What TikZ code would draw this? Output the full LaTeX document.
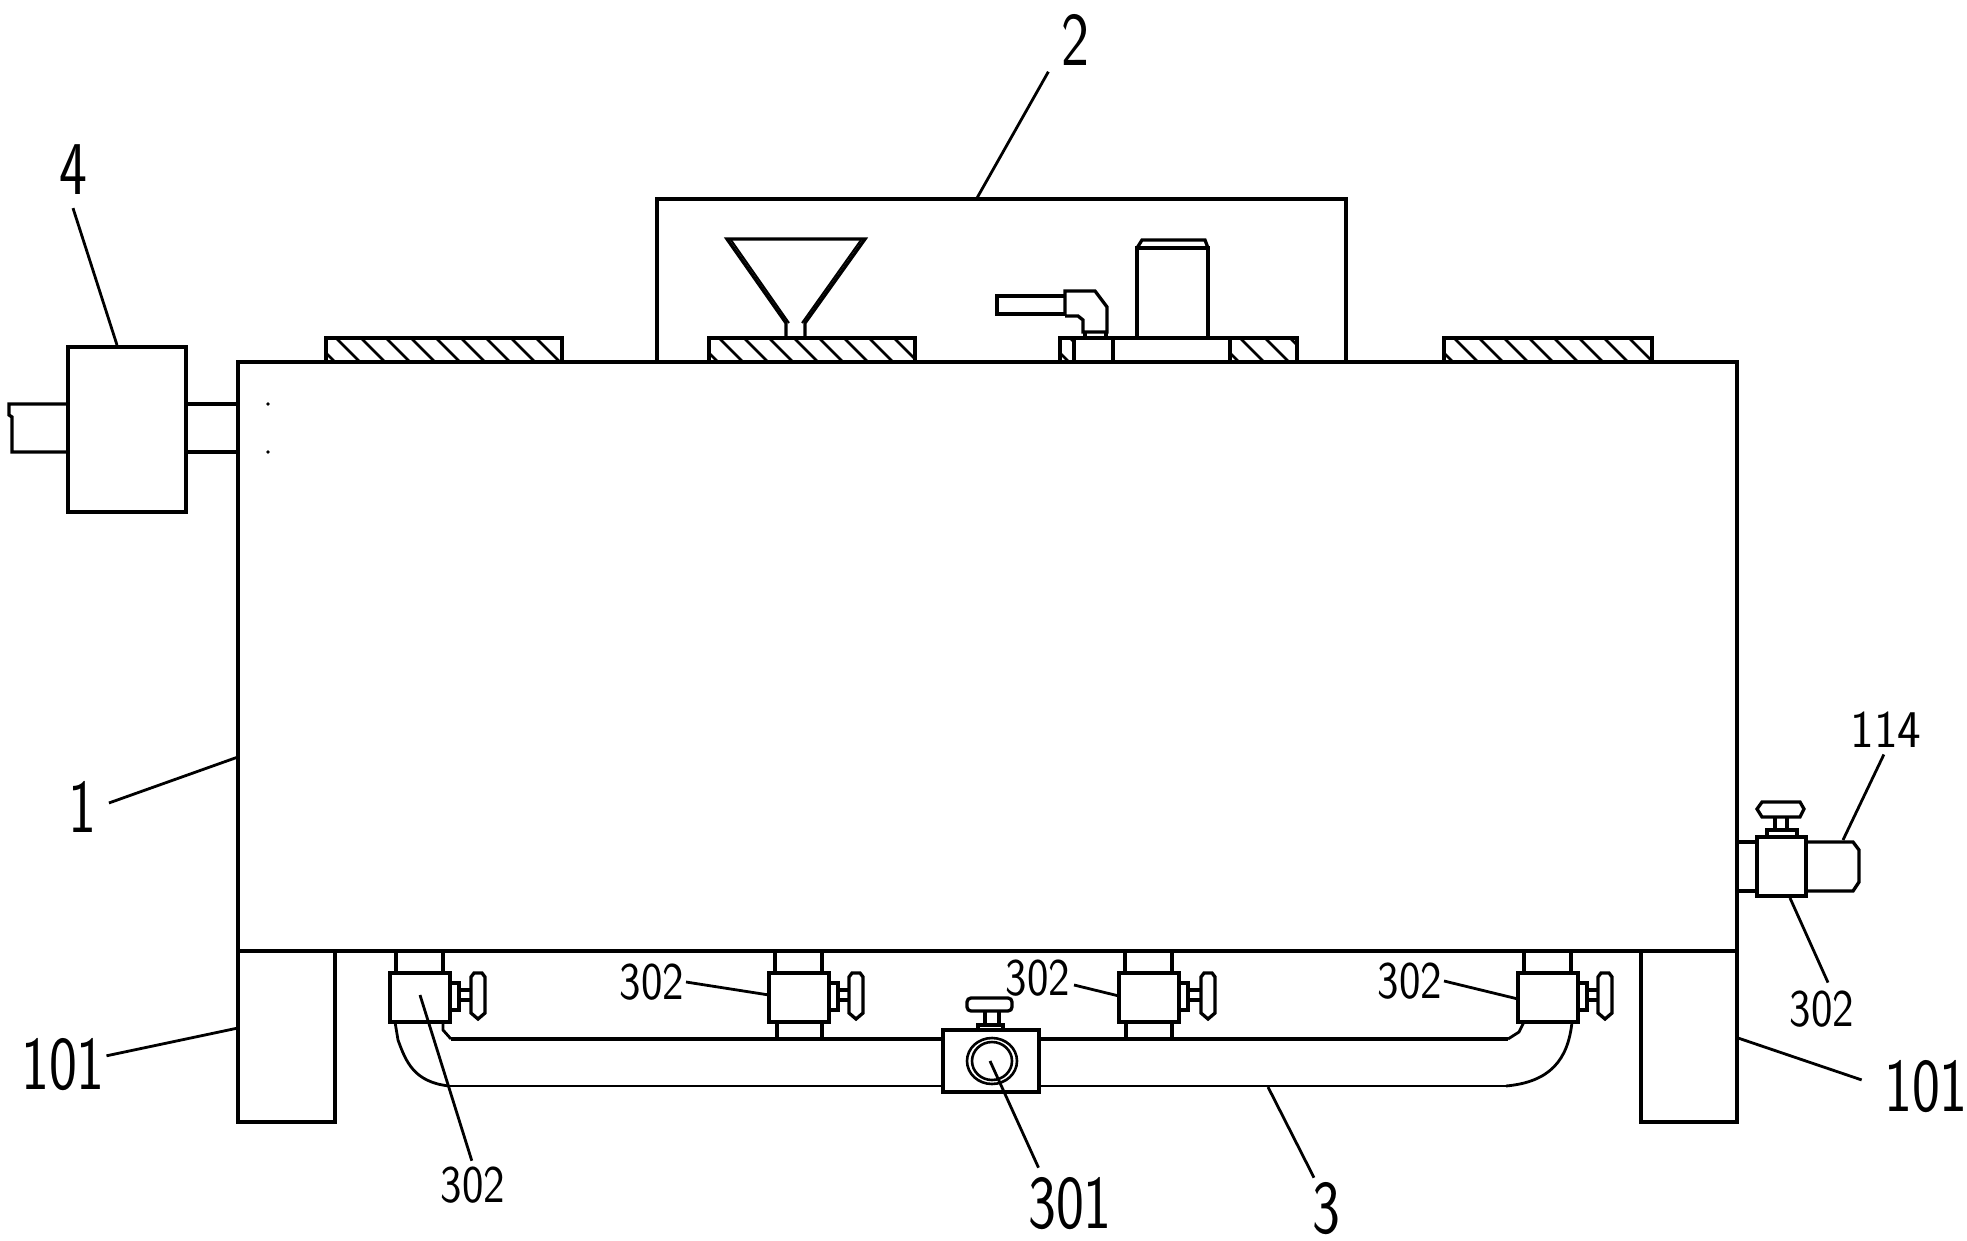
\documentclass[tikz,border=0pt]{standalone}
\usepackage{fontspec}
\usetikzlibrary{positioning}
\tikzset{
  outline/.style={draw=black,line width=3.3pt,line join=miter},
  leader/.style={draw=black,line width=2.8pt},
  smalltag/.style={font=\sffamily\fontsize{53}{53}\selectfont,xscale=0.86,inner sep=2pt},
  bigtag/.style={font=\sffamily\fontsize{76}{76}\selectfont,xscale=0.78,inner sep=2pt},
}
\newcommand{\hatchpad}[4]{%
  \begin{scope}
    \clip (#1,#2) rectangle (#3,#4);
    \foreach \hx in {-40,-15,...,260}
      \draw[line width=2.6pt] ({#1+\hx},#2) -- ++(24,24);
  \end{scope}
  \draw[outline] (#1,#2) rectangle (#3,#4);
}
\begin{document}
\begin{tikzpicture}[x=1pt,y=-1pt]
  \useasboundingbox (0,0) rectangle (1967,1241);
  % tank and legs
  \draw[outline] (238,362) rectangle (1737,951);
  \draw[outline] (238,951) -- (238,1122) -- (335,1122) -- (335,951);
  \draw[outline] (1641,951) -- (1641,1122) -- (1737,1122) -- (1737,951);
  % top cover
  \draw[outline] (657,362) -- (657,199) -- (1346,199) -- (1346,362);
  \hatchpad{326}{338}{562}{362}
  \hatchpad{709}{338}{915}{362}
  \hatchpad{1444}{338}{1652}{362}
  \hatchpad{1060}{338}{1074}{362}
  \hatchpad{1230}{338}{1297}{362}
  \draw[outline] (1074,338) rectangle (1230,362);
  \draw[outline] (1113,338) -- (1113,362);
  % funnel
  \draw[outline] (786,338) -- (786,323) -- (727,239) -- (865,239) -- (805,323) -- (805,338);
  \draw[line width=2pt] (731,240) -- (789,323);
  \draw[line width=2pt] (861,240) -- (802,323);
  % motor and elbow
  \draw[outline] (1137,338) -- (1137,248) -- (1208,248) -- (1208,338);
  \draw[outline] (1137,248) -- (1142,240) -- (1205,240) -- (1208,248);
  \draw[outline] (1065,296) -- (997,296) -- (997,314) -- (1065,314);
  \draw[outline] (1065,314) -- (1065,291) -- (1095,291) -- (1107,307) -- (1107,332) -- (1083,332) -- (1083,320) -- (1078,316) -- (1065,316);
  \draw[outline] (1085,332) -- (1085,338);
  \draw[outline] (1106,332) -- (1106,338);
  % side unit
  \draw[outline] (68,347) rectangle (186,512);
  \draw[outline] (186,404) -- (238,404);
  \draw[outline] (186,452) -- (238,452);
  \draw[outline] (68,404) -- (9,404) -- (9,415) -- (12,417) -- (12,452) -- (68,452);
  \fill (268,404) circle (1.8);
  \fill (268,452) circle (1.8);
  % lower pipe
  \draw[outline] (451,1039) -- (943,1039);
  \draw[outline] (1039,1039) -- (1508,1039);
  \draw[outline,line width=2.8pt] (449,1086) -- (943,1086);
  \draw[outline,line width=2.8pt] (1039,1086) -- (1506,1086);
  \draw[outline,line width=2.8pt] (395,1022) -- (398,1040) .. controls (406,1062) and (414,1082) .. (449,1086);
  \draw[outline,line width=2.8pt] (443,1022) -- (443,1030) -- (451,1039);
  \draw[outline,line width=2.8pt] (1572,1022) .. controls (1568,1060) and (1550,1082) .. (1506,1086);
  \draw[outline,line width=2.8pt] (1524,1022) -- (1519,1032) -- (1508,1039);
  % branch valves
  \foreach \bx/\hx in {390/471,769/849,1119/1201,1518/1598}{
    \draw[outline] (\bx,973) rectangle ({\bx+60},1022);
    \draw[outline] ({\bx+60},983) -- ({\bx+69},983) -- ({\bx+69},1010) -- ({\bx+60},1010);
    \draw[outline] ({\bx+69},990) -- (\hx,990);
    \draw[outline] ({\bx+69},1000) -- (\hx,1000);
    \draw[outline] (\hx,977) -- (\hx,1013) -- ({\hx+7},1019) -- ({\hx+14},1013) -- ({\hx+14},977) -- ({\hx+11},973) -- ({\hx+3},973) -- cycle;
    \draw[outline] ({\bx+6},951) -- ({\bx+6},973);
    \draw[outline] ({\bx+53},951) -- ({\bx+53},973);
  }
  \foreach \px in {777,822,1126,1172}
    \draw[outline] (\px,1022) -- (\px,1039);
  % main valve
  \draw[outline] (943,1030) rectangle (1039,1092);
  \draw[outline,line width=2.6pt] (992,1061) ellipse [x radius=25,y radius=23];
  \draw[outline,line width=2.6pt] (992,1061) ellipse [x radius=20,y radius=19];
  \draw[outline] (978,1030) -- (978,1025) -- (1003,1025) -- (1003,1030);
  \draw[outline] (985,1025) -- (985,1010);
  \draw[outline] (999,1025) -- (999,1010);
  \draw[outline,rounded corners=4pt] (967,998) rectangle (1012,1011);
  % outlet valve
  \draw[outline] (1757,837) rectangle (1806,896);
  \draw[outline] (1737,842) -- (1757,842);
  \draw[outline] (1737,891) -- (1757,891);
  \draw[outline] (1806,842) -- (1853,842) -- (1859,850) -- (1859,882) -- (1853,891) -- (1806,891);
  \draw[outline] (1767,837) -- (1767,830) -- (1797,830) -- (1797,837);
  \draw[outline] (1775,830) -- (1775,817);
  \draw[outline] (1787,830) -- (1787,817);
  \draw[outline] (1762,802) -- (1800,802) -- (1804,809) -- (1800,817) -- (1762,817) -- (1757,809) -- cycle;
  % labels
  \node[bigtag] (lbltwo) at (1075,40) {2};
  \node[bigtag] (lblfour) at (73,170) {4};
  \node[bigtag] (lblone) at (82,807) {1};
  \node[bigtag] (lblfootl) at (63,1065) {101};
  \node[bigtag] (lblfootr) at (1926,1087) {101};
  \node[bigtag] (lblmain) at (1070,1204) {301};
  \node[bigtag] (lblpipe) at (1326,1209) {3};
  \node[smalltag,xscale=1.1] (lblout) at (1886,730) {114};
  \node[smalltag] (lblva) at (473,1185) {302};
  \node[smalltag] (lblvb) at (652,982) {302};
  \node[smalltag] (lblvc) at (1038,978) {302};
  \node[smalltag] (lblvd) at (1410,981) {302};
  \node[smalltag] (lblve) at (1822,1009) {302};
  % leader ends
  \coordinate (tiptwo) at (977,198);
  \coordinate (tipfour) at (117,345);
  \coordinate (tipone) at (238,757);
  \coordinate (tipfootl) at (238,1028);
  \coordinate (tipfootr) at (1738,1038);
  \coordinate (tipmain) at (990,1061);
  \coordinate (tippipe) at (1268,1087);
  \coordinate (tipout) at (1843,840);
  \coordinate (tipva) at (420,995);
  \coordinate (tipvb) at (769,995);
  \coordinate (tipvc) at (1119,996);
  \coordinate (tipvd) at (1518,999);
  \coordinate (tipve) at (1790,898);
  \begin{scope}[every edge/.style={leader}]
  \path ([xshift=-11pt,yshift=-4pt]lbltwo.south west) edge (tiptwo);
  \path ([yshift=-11pt]lblfour.south) edge (tipfour);
  \path (lblone.east) edge[shorten <=12pt] (tipone);
  \path (lblfootl) edge (tipfootl);
  \path (lblfootr.west) edge[shorten <=22pt] (tipfootr);
  \path ([xshift=12pt,yshift=8pt]lblmain.north west) edge (tipmain);
  \path ([xshift=-12pt,yshift=3pt]lblpipe.north) edge (tippipe);
  \path (lblout.south) edge[shorten <=5pt] (tipout);
  \path (lblva.north) edge[shorten <=4pt] (tipva);
  \path (lblvb.east) edge (tipvb);
  \path ([yshift=-7pt,xshift=2pt]lblvc.east) edge (tipvc);
  \path (lblvd.east) edge (tipvd);
  \path ([xshift=6pt,yshift=6pt]lblve.north) edge (tipve);
  \end{scope}
\end{tikzpicture}
\end{document}
